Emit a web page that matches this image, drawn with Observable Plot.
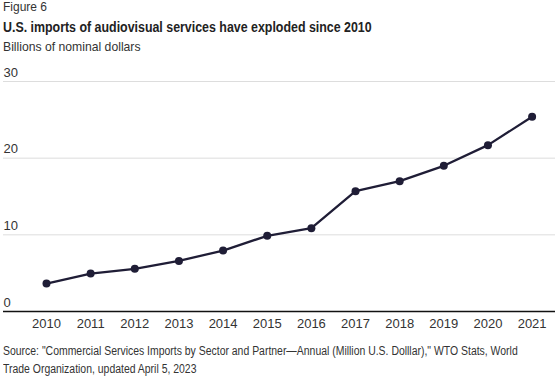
<!DOCTYPE html>
<html>
<head>
<meta charset="utf-8">
<script src="https://cdn.jsdelivr.net/npm/d3@7"></script>
<script src="https://cdn.jsdelivr.net/npm/@observablehq/plot@0.6"></script>
<style>
  html, body { margin: 0; padding: 0; background: #fff; overflow: hidden; }
  #wrap { position: relative; width: 560px; height: 392px; font-family: "Liberation Sans", Arial, sans-serif; color: #222; overflow: hidden; }
  .t { position: absolute; left: 3px; white-space: nowrap; transform-origin: 0 0; }
  #fig { top: 0px; font-size: 12px; line-height: 14px; color: #333; }
  #title { top: 18px; font-size: 14.5px; line-height: 18px; font-weight: bold; color: #222; transform: scaleX(0.855); }
  #sub { top: 39px; font-size: 12.2px; line-height: 16px; color: #333; }
  #chart { position: absolute; left: 0; top: 60px; }
  #src { top: 342px; font-size: 12px; line-height: 18px; color: #333; white-space: nowrap; transform: scaleX(0.87); }
</style>
</head>
<body>
<div id="wrap">
  <div class="t" id="fig">Figure 6</div>
  <div class="t" id="title">U.S. imports of audiovisual services have exploded since 2010</div>
  <div class="t" id="sub">Billions of nominal dollars</div>
  <div id="chart"></div>
  <div class="t" id="src">Source: "Commercial Services Imports by Sector and Partner—Annual (Million U.S. Dolllar)," WTO Stats, World<br>Trade Organization, updated April 5, 2023</div>
</div>
<script>
const years = [2010, 2011, 2012, 2013, 2014, 2015, 2016, 2017, 2018, 2019, 2020, 2021];
const imports = [3.65, 4.95, 5.57, 6.6, 7.95, 9.87, 10.87, 15.7, 17.0, 19.0, 21.7, 25.4];
const yTicks = [0, 10, 20, 30];

const data = years.map((y, i) => ({year: y, value: imports[i]}));
const lineColor = "#1f1d36";

const chart = Plot.plot({
  width: 560,
  height: 275,
  marginLeft: 3,
  marginRight: 5,
  marginTop: 21,
  marginBottom: 24,
  style: {fontFamily: "Liberation Sans, Arial, sans-serif", fontSize: "13px", color: "#333", background: "transparent"},
  x: {type: "linear", domain: [2009.026, 2021.53]},
  y: {domain: [0, 30]},
  marks: [
    Plot.gridY(yTicks, {stroke: "#dddddd", strokeOpacity: 1, strokeWidth: 1}),
    Plot.axisY(yTicks, {anchor: "left", tickSize: 0, tickPadding: 0, textAnchor: "start", dy: -9, label: null, fill: "#333"}),
    Plot.axisX(years, {anchor: "bottom", tickSize: 0, tickPadding: 7, tickFormat: d => String(d), label: null, fill: "#333"}),
    Plot.ruleY([0], {stroke: "#111", strokeWidth: 1.5}),
    Plot.line(data, {x: "year", y: "value", stroke: lineColor, strokeWidth: 2.3}),
    Plot.dot(data, {x: "year", y: "value", r: 4, fill: lineColor, stroke: "none"})
  ]
});
document.getElementById("chart").appendChild(chart);
</script>
</body>
</html>
